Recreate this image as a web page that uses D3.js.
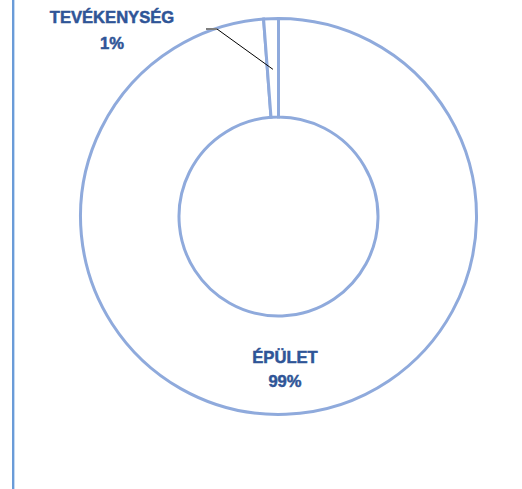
<!DOCTYPE html>
<html><head><meta charset="utf-8">
<script src="https://cdn.jsdelivr.net/npm/d3@7"></script>
<style>body{margin:0;background:#fff}svg{display:block}</style>
</head><body>
<svg id="c" width="522" height="489"></svg>
<script>
const categories = ["ÉPÜLET", "TEVÉKENYSÉG"];
const values = [98.8, 1.2];
const labels = ["99%", "1%"];

const svg = d3.select("#c");
const cx = 278.5, cy = 216.5, rOuter = 198, rInner = 99.5;

// left frame line
svg.append("line").attr("x1", 13).attr("x2", 13).attr("y1", 0).attr("y2", 489)
  .attr("stroke", "#6A9BD8").attr("stroke-width", 2);
svg.append("line").attr("x1", 14.5).attr("x2", 14.5).attr("y1", 0).attr("y2", 489)
  .attr("stroke", "#C5DAF2").attr("stroke-width", 1);

const data = categories.map((c, i) => ({cat: c, value: values[i], label: labels[i]}));
const pie = d3.pie().sort(null).value(d => d.value);
const arc = d3.arc().innerRadius(rInner).outerRadius(rOuter);
const arcs = pie(data);

const g = svg.append("g").attr("transform", `translate(${cx},${cy})`);
g.selectAll("path").data(arcs).join("path")
  .attr("d", arc)
  .attr("fill", "#fff")
  .attr("stroke", "#8FAADC")
  .attr("stroke-width", 3)
  .attr("stroke-linejoin", "miter");

// leader line for small slice
const small = arcs[1];
const mid = (small.startAngle + small.endAngle) / 2;
const rp = (rInner + rOuter) / 2 - 1.5;
const px = cx + rp * Math.sin(mid), py = cy - rp * Math.cos(mid);
svg.append("polyline")
  .attr("points", `206,29 217,29 ${px},${py}`)
  .attr("fill", "none").attr("stroke", "#000").attr("stroke-width", 1);
svg.append("line").attr("x1", 206).attr("x2", 217).attr("y1", 29).attr("y2", 29)
  .attr("stroke", "#7F7F7F").attr("stroke-width", 2);

const labelPos = [[285, 363.3, 386.5], [112, 22.7, 48.5]];
data.forEach((d, i) => {
  const t = svg.append("text")
    .attr("text-anchor", "middle")
    .attr("font-family", "'Liberation Sans', Arial, sans-serif")
    .attr("font-weight", "bold")
    .attr("font-size", 16.6)
    .attr("fill", "#2F5597")
    .attr("stroke", "#2F5597")
    .attr("stroke-width", 0.5);
  t.append("tspan").attr("x", labelPos[i][0]).attr("y", labelPos[i][1]).text(d.cat);
  t.append("tspan").attr("x", labelPos[i][0]).attr("y", labelPos[i][2]).text(d.label);
});
</script>
</body></html>
